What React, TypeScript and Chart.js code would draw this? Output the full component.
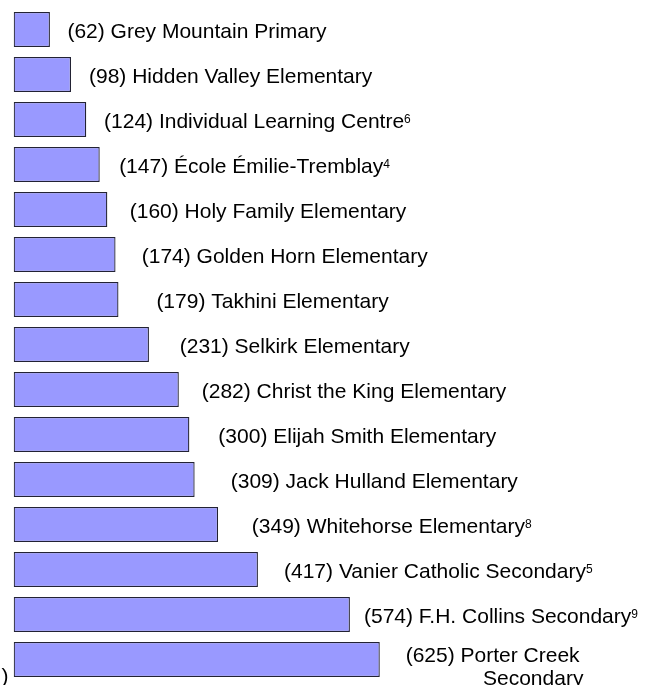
import { useEffect, useRef } from "react";
import { Chart, registerables } from "chart.js";

Chart.register(...registerables);

// ---- data ----
const SCHOOLS: string[][] = [
  ["Grey Mountain Primary"],
  ["Hidden Valley Elementary"],
  ["Individual Learning Centre"],
  ["École Émilie-Tremblay"],
  ["Holy Family Elementary"],
  ["Golden Horn Elementary"],
  ["Takhini Elementary"],
  ["Selkirk Elementary"],
  ["Christ the King Elementary"],
  ["Elijah Smith Elementary"],
  ["Jack Hulland Elementary"],
  ["Whitehorse Elementary"],
  ["Vanier Catholic Secondary"],
  ["F.H. Collins Secondary"],
  ["Porter Creek", "Secondary"],
];
const ENROLMENT: number[] = [62, 98, 124, 147, 160, 174, 179, 231, 282, 300, 309, 349, 417, 574, 625];
const NOTES: string[] = ["", "", "6", "4", "", "", "", "", "", "", "", "8", "5", "9", ""];
const X_MAX = 1000;

// ---- layout (label gaps after bar end) ----
const LABEL_GAP = [17.5, 18, 17.8, 19.4, 22.4, 26.2, 37.9, 30.8, 22.9, 29, 36.1, 33.7, 26.1, 14.1, 25.9];
const WRAP_INDENT = 77.3;
const FONT = '"Liberation Sans", Arial, sans-serif';

export default function App() {
  const ref = useRef<HTMLCanvasElement>(null);

  useEffect(() => {
    if (!ref.current) return;
    const labelPlugin = {
      id: "barLabels",
      afterDatasetsDraw(chart: any) {
        const ctx = chart.ctx as CanvasRenderingContext2D;
        const meta = chart.getDatasetMeta(0);
        ctx.save();
        ctx.fillStyle = "#000";
        ctx.textAlign = "left";
        ctx.textBaseline = "alphabetic";
        meta.data.forEach((bar: any, i: number) => {
          const lines = SCHOOLS[i];
          const x0 = bar.x + LABEL_GAP[i];
          const first = `(${ENROLMENT[i]}) ${lines[0]}`;
          ctx.font = `21px ${FONT}`;
          if (lines.length === 1) {
            const by = bar.y + 8.2;
            ctx.fillText(first, x0, by);
            if (NOTES[i]) {
              const w = ctx.measureText(first).width;
              ctx.font = `12px ${FONT}`;
              ctx.fillText(NOTES[i], x0 + w, by - 5);
            }
          } else {
            ctx.fillText(first, x0, bar.y + 2.6);
            ctx.fillText(lines[1], x0 + WRAP_INDENT, bar.y + 25.2);
          }
        });
        // clipped fragment at bottom-left
        const last = meta.data[meta.data.length - 1];
        ctx.font = `21px ${FONT}`;
        ctx.fillText(")", chart.chartArea.left - 12, last.y + 23);
        ctx.restore();
      },
    };

    const chart = new Chart(ref.current, {
      type: "bar",
      data: {
        labels: SCHOOLS.map((s) => s.join(" ")),
        datasets: [
          {
            data: ENROLMENT,
            backgroundColor: "#9999ff",
            borderColor: "#222233",
            borderWidth: 1.3,
            borderSkipped: false,
            barPercentage: 35 / 45,
            categoryPercentage: 1,
          },
        ],
      },
      options: {
        indexAxis: "y",
        responsive: false,
        animation: false,
        devicePixelRatio: 1,
        layout: { padding: { left: 13.6, right: 53.5, top: 7, bottom: 3 } },
        plugins: {
          legend: { display: false },
          tooltip: { enabled: false },
          title: { display: false },
        },
        scales: {
          x: { display: false, min: 0, max: X_MAX },
          y: { display: false },
        },
      },
      plugins: [labelPlugin],
    });
    return () => chart.destroy();
  }, []);

  return (
    <div style={{ position: "absolute", left: 0, top: 0, width: 653, height: 685, background: "#fff" }}>
      <canvas ref={ref} width={653} height={685} style={{ display: "block" }} />
    </div>
  );
}
